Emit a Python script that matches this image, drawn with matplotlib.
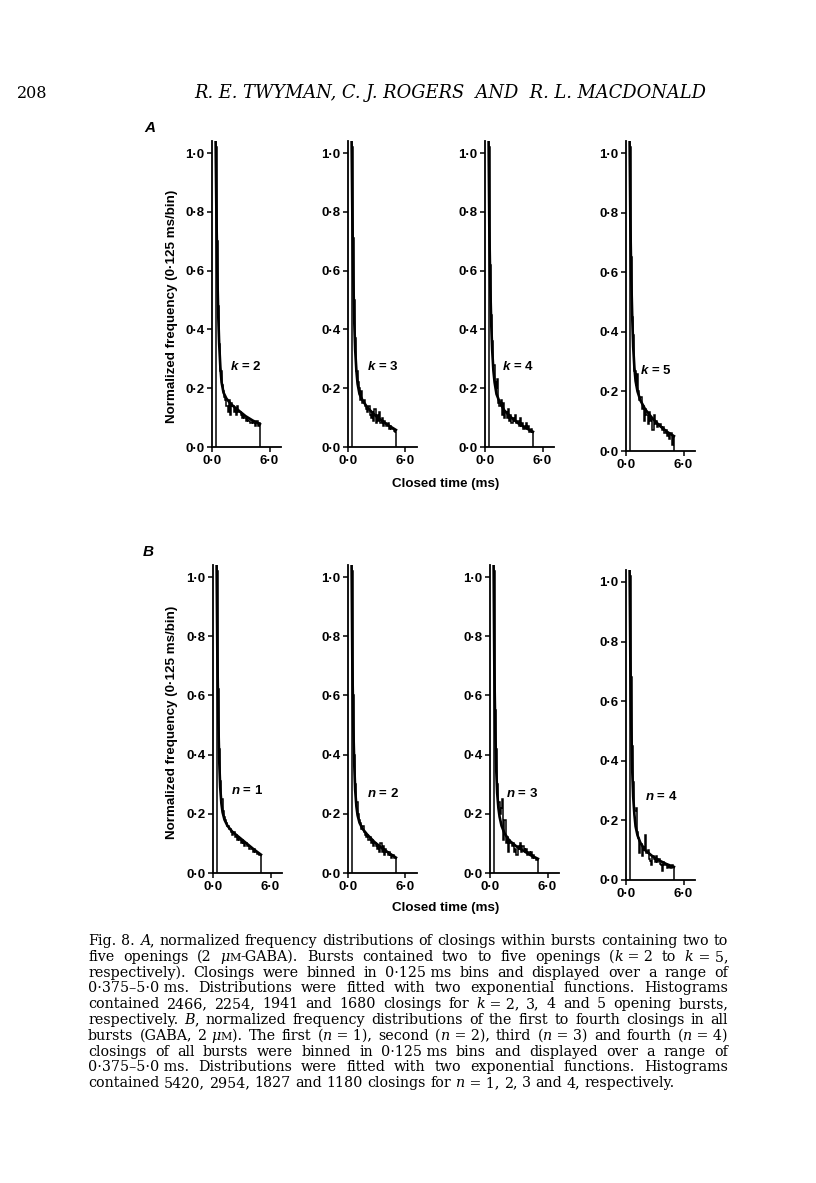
import re
import numpy as np
import matplotlib
matplotlib.use("Agg")
import matplotlib.pyplot as plt

W, H = 816, 1183

plt.rcParams['font.family'] = ['Liberation Sans', 'DejaVu Sans']
plt.rcParams['mathtext.fontset'] = 'custom'
plt.rcParams['mathtext.it'] = 'Liberation Sans:italic:bold'
plt.rcParams['mathtext.rm'] = 'Liberation Sans:bold'

# histogram bins: 0.125 ms wide, starting at 0.375 ms
bin_width = 0.125
bin_start = 0.375

# A: k = 2..5 opening bursts
hist_k2 = [1.02, 0.70, 0.48, 0.35, 0.26, 0.21, 0.19, 0.17, 0.16, 0.14, 0.12, 0.16, 0.11,
           0.15, 0.14, 0.12, 0.13, 0.11, 0.14, 0.12, 0.12, 0.11, 0.10, 0.11, 0.10, 0.09,
           0.10, 0.09, 0.09, 0.08, 0.09, 0.08, 0.08, 0.07, 0.09, 0.07, 0.08]
hist_k3 = [1.02, 0.71, 0.50, 0.37, 0.26, 0.22, 0.20, 0.16, 0.19, 0.15, 0.16, 0.14, 0.13,
           0.12, 0.14, 0.11, 0.10, 0.12, 0.09, 0.13, 0.08, 0.11, 0.09, 0.12, 0.08, 0.10,
           0.07, 0.09, 0.08, 0.07, 0.08, 0.06, 0.07, 0.06, 0.06, 0.055, 0.05]
hist_k4 = [1.02, 0.62, 0.45, 0.36, 0.28, 0.22, 0.20, 0.23, 0.15, 0.14, 0.16, 0.11, 0.15,
           0.10, 0.12, 0.10, 0.13, 0.09, 0.11, 0.08, 0.10, 0.09, 0.11, 0.08, 0.09, 0.07,
           0.10, 0.07, 0.08, 0.06, 0.07, 0.08, 0.06, 0.07, 0.05, 0.06, 0.05]
hist_k5 = [1.02, 0.65, 0.45, 0.39, 0.27, 0.22, 0.26, 0.20, 0.17, 0.18, 0.14, 0.15, 0.10,
           0.14, 0.12, 0.09, 0.13, 0.10, 0.11, 0.07, 0.12, 0.09, 0.10, 0.08, 0.09, 0.09,
           0.08, 0.07, 0.08, 0.06, 0.07, 0.05, 0.06, 0.04, 0.06, 0.02, 0.05]
# B: n = 1..4 closing within bursts
hist_n1 = [1.02, 0.62, 0.42, 0.31, 0.25, 0.21, 0.19, 0.18, 0.17, 0.16, 0.15, 0.15, 0.14,
           0.13, 0.14, 0.12, 0.13, 0.11, 0.12, 0.11, 0.10, 0.11, 0.10, 0.09, 0.10, 0.09,
           0.09, 0.08, 0.08, 0.08, 0.07, 0.08, 0.07, 0.07, 0.065, 0.06, 0.06]
hist_n2 = [1.02, 0.60, 0.40, 0.30, 0.24, 0.20, 0.18, 0.17, 0.15, 0.16, 0.14, 0.13, 0.12,
           0.13, 0.11, 0.12, 0.10, 0.11, 0.09, 0.10, 0.09, 0.08, 0.09, 0.07, 0.10, 0.07,
           0.09, 0.06, 0.08, 0.07, 0.06, 0.07, 0.06, 0.05, 0.06, 0.05, 0.05]
hist_n3 = [1.02, 0.55, 0.42, 0.30, 0.24, 0.20, 0.22, 0.25, 0.11, 0.18, 0.10, 0.12, 0.07,
           0.11, 0.10, 0.09, 0.10, 0.07, 0.08, 0.06, 0.09, 0.08, 0.10, 0.07, 0.09, 0.08,
           0.07, 0.08, 0.06, 0.07, 0.06, 0.07, 0.05, 0.06, 0.05, 0.045, 0.045]
hist_n4 = [1.02, 0.68, 0.45, 0.33, 0.23, 0.24, 0.16, 0.14, 0.09, 0.12, 0.08, 0.11, 0.10,
           0.15, 0.09, 0.10, 0.07, 0.065, 0.05, 0.08, 0.07, 0.06, 0.08, 0.06, 0.07, 0.055,
           0.05, 0.03, 0.06, 0.05, 0.055, 0.04, 0.05, 0.045, 0.04, 0.05, 0.045]

# two-exponential fits, read at these times (ms)
fit_x = [0.375, 0.45, 0.55, 0.65, 0.75, 0.875, 1.0, 1.2, 1.5, 2.0, 2.75, 3.5, 4.25, 5.0]
fit_k2 = [1.05, 0.82, 0.60, 0.45, 0.35, 0.27, 0.22, 0.185, 0.165, 0.145, 0.125, 0.105, 0.09, 0.078]
fit_k3 = [1.05, 0.80, 0.58, 0.43, 0.33, 0.26, 0.215, 0.18, 0.16, 0.135, 0.11, 0.09, 0.073, 0.058]
fit_k4 = [1.05, 0.75, 0.55, 0.42, 0.33, 0.26, 0.22, 0.18, 0.155, 0.125, 0.10, 0.08, 0.065, 0.052]
fit_k5 = [1.05, 0.78, 0.58, 0.45, 0.35, 0.28, 0.235, 0.20, 0.17, 0.14, 0.11, 0.085, 0.065, 0.05]
fit_n1 = [1.05, 0.75, 0.52, 0.38, 0.29, 0.235, 0.205, 0.18, 0.16, 0.14, 0.12, 0.10, 0.08, 0.062]
fit_n2 = [1.05, 0.72, 0.50, 0.37, 0.28, 0.225, 0.195, 0.17, 0.15, 0.13, 0.105, 0.085, 0.068, 0.052]
fit_n3 = [1.05, 0.70, 0.48, 0.35, 0.27, 0.22, 0.19, 0.16, 0.135, 0.11, 0.09, 0.075, 0.06, 0.048]
fit_n4 = [1.05, 0.75, 0.52, 0.37, 0.28, 0.22, 0.18, 0.15, 0.125, 0.10, 0.08, 0.065, 0.053, 0.044]

labels = [r'$k$ = 2', r'$k$ = 3', r'$k$ = 4', r'$k$ = 5',
          r'$n$ = 1', r'$n$ = 2', r'$n$ = 3', r'$n$ = 4']
hists = [hist_k2, hist_k3, hist_k4, hist_k5, hist_n1, hist_n2, hist_n3, hist_n4]
fits = [fit_k2, fit_k3, fit_k4, fit_k5, fit_n1, fit_n2, fit_n3, fit_n4]

xticks = [0, 6]
yticks = [0.0, 0.2, 0.4, 0.6, 0.8, 1.0]

# panel placement in pixels: y-axis x, y of 0.0, y of 1.0, label position (ms, value)
places = [(212, 447, 153, 3.5, 0.275), (348, 447, 153, 3.6, 0.275),
          (485, 447, 153, 3.4, 0.275), (626, 451, 153, 3.1, 0.27),
          (213, 873, 577, 3.6, 0.28), (348, 873, 577, 3.7, 0.27),
          (490, 873, 577, 3.4, 0.27), (626, 880, 582, 3.7, 0.28)]

fig = plt.figure(figsize=(W / 100, H / 100), dpi=100)

for i in range(8):
    lx, y0, y1, tx, ty = places[i]
    h = (y0 - y1) * 1.04
    ax = fig.add_axes([lx / W, 1 - y0 / H, 69 / W, h / H])
    edges = bin_start + bin_width * np.arange(len(hists[i]) + 1)
    ax.stairs(hists[i], edges, baseline=0, color='black', lw=1.1)
    ax.plot(fit_x, fits[i], color='black', lw=1.9)
    ax.set_xlim(0, 7.2)
    ax.set_ylim(0, 1.04)
    ax.spines['top'].set_visible(False)
    ax.spines['right'].set_visible(False)
    ax.spines['left'].set_linewidth(1.3)
    ax.spines['bottom'].set_linewidth(1.3)
    ax.set_xticks(xticks)
    ax.set_xticklabels([f"{v:.1f}".replace('.', '·') for v in xticks],
                       fontweight='bold', fontsize=9.5)
    ax.set_yticks(yticks)
    ax.set_yticklabels([f"{v:.1f}".replace('.', '·') for v in yticks],
                       fontweight='bold', fontsize=9.5)
    ax.tick_params(direction='out', length=3.5, width=1.1, pad=2)
    ax.text(tx, ty, labels[i], ha='center', va='center', fontsize=9.5, fontweight='bold')

# panel letters and axis titles
fig.text(150 / W, 1 - 128 / H, 'A', fontsize=11, fontweight='bold', style='italic',
         ha='center', va='center')
fig.text(148 / W, 1 - 552 / H, 'B', fontsize=11, fontweight='bold', style='italic',
         ha='center', va='center')
for yc in [306, 722]:
    fig.text(172 / W, 1 - yc / H, 'Normalized frequency (0·125 ms/bin)', rotation=90,
             fontsize=9.6, fontweight='bold', ha='center', va='center')
for yc in [484, 908]:
    fig.text(446 / W, 1 - yc / H, 'Closed time (ms)', fontsize=9.6, fontweight='bold',
             ha='center', va='center')

# page header
serif = ['DejaVu Serif', 'Liberation Serif']
fig.text(17 / W, 1 - 93 / H, '208', family=serif, fontsize=11.5, ha='left', va='center')
fig.text(450 / W, 1 - 93 / H, 'R. E. TWYMAN, C. J. ROGERS  AND  R. L. MACDONALD',
         family=serif, style='italic', fontsize=12.9, ha='center', va='center')

# caption, justified word by word
caption = [
    "Fig. 8. _A_, normalized frequency distributions of closings within bursts containing two to",
    "five openings (2 _μ_^M^-GABA). Bursts contained two to five openings (_k_\u00a0=\u00a02 to _k_\u00a0=\u00a05,",
    "respectively). Closings were binned in 0·125\u00a0ms bins and displayed over a range of",
    "0·375–5·0\u00a0ms. Distributions were fitted with two exponential functions. Histograms",
    "contained 2466, 2254, 1941 and 1680 closings for _k_\u00a0=\u00a02, 3, 4 and 5 opening bursts,",
    "respectively. _B_, normalized frequency distributions of the first to fourth closings in all",
    "bursts (GABA, 2\u00a0_μ_^M^). The first (_n_\u00a0=\u00a01), second (_n_\u00a0=\u00a02), third (_n_\u00a0=\u00a03) and fourth (_n_\u00a0=\u00a04)",
    "closings of all bursts were binned in 0·125\u00a0ms bins and displayed over a range of",
    "0·375–5·0\u00a0ms. Distributions were fitted with two exponential functions. Histograms",
    "contained 5420, 2954, 1827 and 1180 closings for _n_\u00a0=\u00a01, 2, 3 and 4, respectively.",
]
cap_size = 10.3
cap_left, cap_right = 88, 728
cap_top, cap_step = 945, 15.8

renderer = fig.canvas.get_renderer()


def parse(word):
    segs = []
    for part in re.split(r'(_[^_]*_|\^[^^]*\^)', word):
        if not part:
            continue
        if part.startswith('_'):
            segs.append((part[1:-1], 'italic', cap_size))
        elif part.startswith('^'):
            segs.append((part[1:-1], 'normal', cap_size * 0.78))
        else:
            segs.append((part, 'normal', cap_size))
    return segs


def width(text, style, size):
    t = fig.text(0, 0, text, family=serif, style=style, fontsize=size)
    w = t.get_window_extent(renderer).width
    t.remove()
    return w


space = width('a a', 'normal', cap_size) - width('aa', 'normal', cap_size)

for li, line in enumerate(caption):
    words = [parse(w) for w in line.split(' ')]
    widths = [[width(*s) for s in segs] for segs in words]
    total = sum(sum(ws) for ws in widths)
    if li < len(caption) - 1:
        gap = (cap_right - cap_left - total) / (len(words) - 1)
    else:
        gap = space
    x = cap_left
    yb = cap_top + li * cap_step
    for segs, ws in zip(words, widths):
        for (txt, st, sz), w in zip(segs, ws):
            fig.text(x / W, 1 - yb / H, txt, family=serif, style=st, fontsize=sz,
                     ha='left', va='baseline')
            x += w
        x += gap

fig.savefig('out.png', dpi=100)
